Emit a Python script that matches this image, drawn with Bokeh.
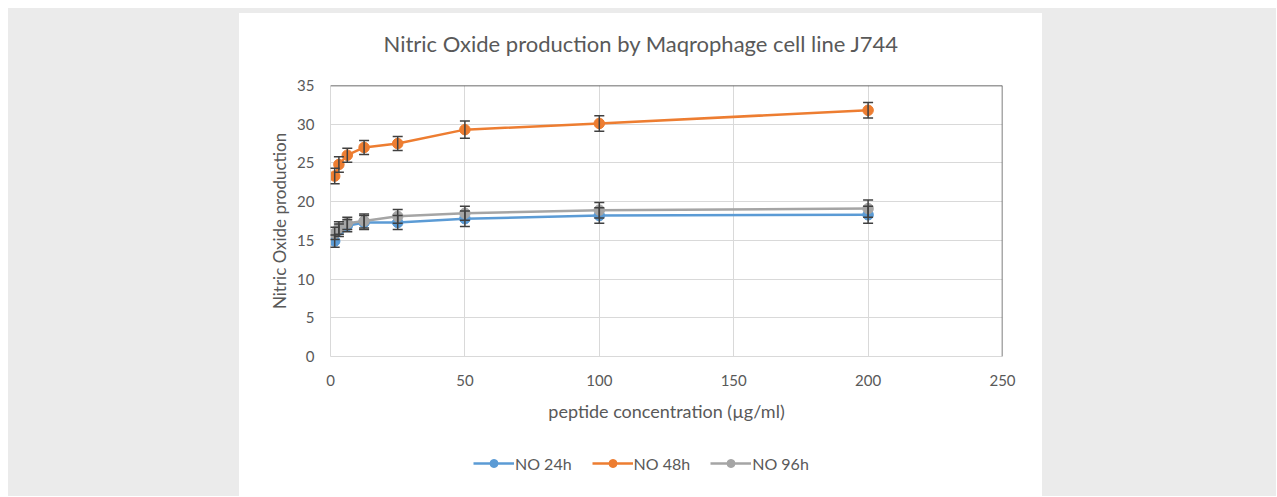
from bokeh.plotting import figure
from bokeh.models import (ColumnDataSource, Whisker, TeeHead, FixedTicker, Legend,
                          LegendItem, Span, Range1d, Spacer, Title)
from bokeh.layouts import row, column
from bokeh.embed import file_html
from bokeh.resources import INLINE

# ---------------- data ----------------
concentration = [1.5625, 3.125, 6.25, 12.5, 25, 50, 100, 200]
no_24h = [14.9, 16.3, 16.9, 17.3, 17.3, 17.8, 18.2, 18.3]
no_48h = [23.3, 24.8, 26.0, 27.0, 27.5, 29.3, 30.1, 31.8]
no_96h = [15.9, 16.6, 17.2, 17.5, 18.1, 18.5, 18.9, 19.1]
err_24h = [0.8, 0.8, 0.8, 0.9, 0.9, 1.0, 1.0, 1.1]
err_48h = [1.0, 1.0, 0.9, 0.9, 0.9, 1.1, 1.0, 1.0]
err_96h = [0.8, 0.8, 0.8, 0.9, 0.9, 0.9, 1.0, 1.1]
series_names = ["NO 24h", "NO 48h", "NO 96h"]
series_colors = ["#5b9bd5", "#ed7d31", "#a5a5a5"]
x_ticks = [0, 50, 100, 150, 200, 250]
y_ticks = [0, 5, 10, 15, 20, 25, 30, 35]
title_text = "Nitric Oxide production by Maqrophage cell line J744"
x_label = "peptide concentration (µg/ml)"
y_label = "Nitric Oxide production"

TEXT = "#595959"
GRID = "#d9d9d9"
BAR = "#404040"
FONT = "Lato"
PAGE_BG = "#ebebeb"

p = figure(width=803, height=430, x_range=Range1d(0, 250), y_range=Range1d(0, 35),
           output_backend="svg", toolbar_location=None,
           min_border_left=91, min_border_right=40, min_border_top=72, min_border_bottom=87,
           background_fill_color="white", border_fill_color="white",
           outline_line_color=None, title=title_text)

p.title.text_font = FONT
p.title.text_font_size = "22px"
p.title.text_font_style = "normal"
p.title.text_color = TEXT
p.title.align = "left"
p.title.offset = 53
p.title.standoff = 4

# empty title used as a gap between the chart title and the plot area
p.add_layout(Title(text=" ", text_font_size="10px", standoff=14), "above")

for ax in (p.xaxis[0], p.yaxis[0]):
    ax.axis_line_color = GRID
    ax.major_tick_line_color = None
    ax.minor_tick_line_color = None
    ax.major_label_text_font = FONT
    ax.major_label_text_font_size = "15px"
    ax.major_label_text_color = TEXT
    ax.axis_label_text_font = FONT
    ax.axis_label_text_font_style = "normal"
    ax.axis_label_text_color = TEXT

p.xaxis.axis_label_text_font_size = "18px"
p.yaxis.axis_label_text_font_size = "17px"
p.xaxis.ticker = FixedTicker(ticks=x_ticks)
p.yaxis.ticker = FixedTicker(ticks=y_ticks)
p.xaxis.major_label_standoff = 12
p.yaxis.major_label_standoff = 10
p.xaxis.axis_label = x_label
p.yaxis.axis_label = y_label
p.xaxis.axis_label_standoff = 11
p.yaxis.axis_label_standoff = 4

p.xgrid.ticker = FixedTicker(ticks=x_ticks)
p.ygrid.ticker = FixedTicker(ticks=y_ticks)
p.xgrid.grid_line_color = GRID
p.ygrid.grid_line_color = GRID

p.add_layout(Span(location=35, dimension="width", line_color="#3a3a3a", line_width=1.5))
p.add_layout(Span(location=250, dimension="height", line_color="#555555", line_width=1.5))

# legend lives in its own strip below the chart
lf = figure(width=803, height=53, x_range=Range1d(0, 1), y_range=Range1d(0, 1),
            output_backend="svg", toolbar_location=None,
            x_axis_type=None, y_axis_type=None, min_border=0,
            outline_line_color=None, background_fill_color="white",
            border_fill_color="white")
lf.grid.visible = False

items = []
for name, ys, errs, color in zip(series_names, [no_24h, no_48h, no_96h],
                                 [err_24h, err_48h, err_96h], series_colors):
    src = ColumnDataSource(dict(x=concentration, y=ys,
                                upper=[v + e for v, e in zip(ys, errs)],
                                lower=[v - e for v, e in zip(ys, errs)]))
    p.line("x", "y", source=src, line_color=color, line_width=2.5)
    p.scatter("x", "y", source=src, size=10.5, fill_color=color, line_color=color)
    w = Whisker(source=src, base="x", upper="upper", lower="lower",
                line_color=BAR, line_width=1.5, level="annotation",
                upper_head=TeeHead(size=10, line_color=BAR, line_width=1.5),
                lower_head=TeeHead(size=10, line_color=BAR, line_width=1.5))
    p.add_layout(w)
    # legend-only renderers: points kept outside the strip's visible range
    dummy = ColumnDataSource(dict(x=[-10, -9], y=[-10, -10]))
    lr = lf.line("x", "y", source=dummy, line_color=color, line_width=2.5)
    sr = lf.scatter("x", "y", source=dummy, size=10, fill_color=color, line_color=color)
    items.append(LegendItem(label=name, renderers=[lr, sr]))

legend = Legend(items=items, orientation="horizontal", location=(143, 23),
                glyph_width=41, glyph_height=20, label_standoff=1, spacing=20,
                padding=5, margin=0, border_line_color=None, background_fill_alpha=0,
                label_text_font=FONT, label_text_font_size="16px", label_text_color=TEXT)
lf.add_layout(legend)

gray = {"background-color": PAGE_BG}
white = {"background-color": "white"}
panel = column(Spacer(width=803, height=5, styles=gray), p, lf, styles=white)
body = row(Spacer(width=8, height=488, styles=white),
           Spacer(width=231, height=488, styles=gray),
           panel,
           Spacer(width=234, height=488, styles=gray))
layout = column(Spacer(width=1276, height=8, styles=white), body, styles=white)

open("out.html", "w").write(file_html(layout, INLINE))
